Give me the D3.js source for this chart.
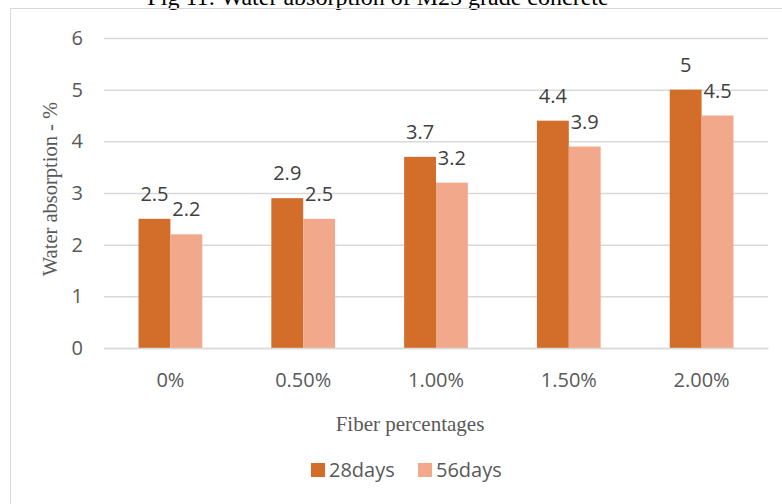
<!DOCTYPE html>
<html><head><meta charset="utf-8">
<script src="https://cdn.jsdelivr.net/npm/d3@7"></script>
<style>html,body{margin:0;padding:0;background:#fff;}svg{display:block;}</style>
</head><body>
<svg id="c" width="782" height="504"></svg>
<script>
const categories = ["0%", "0.50%", "1.00%", "1.50%", "2.00%"];
const seriesNames = ["28days", "56days"];
const days28 = [2.5, 2.9, 3.7, 4.4, 5];
const days56 = [2.2, 2.5, 3.2, 3.9, 4.5];
const yTicks = [0, 1, 2, 3, 4, 5, 6];
const colors = ["#D26D2A", "#F2A98B"];

const svg = d3.select("#c");
const plotL = 104, plotR = 768, plotT = 38, plotB = 348;
const sans = "Open Sans, Calibri, sans-serif";
const serif = "Liberation Serif, Times New Roman, serif";

// title (cut at top, as in the reference)
svg.append("text").attr("x", 378).attr("y", 4.5).attr("text-anchor", "middle")
  .attr("font-family", serif).attr("font-size", 24)
  .attr("fill", "#000").text("Fig 11: Water absorption of M25 grade concrete");

// chart border
svg.append("rect").attr("x", 10.5).attr("y", 8.5).attr("width", 800).attr("height", 520)
  .attr("fill", "none").attr("stroke", "#D9D9D9").attr("stroke-width", 1);

const x = d3.scaleBand().domain(categories).range([plotL, plotR]).paddingInner(0.52).paddingOuter(0.26);
const xs = d3.scaleBand().domain(seriesNames).range([0, x.bandwidth()]);
const y = d3.scaleLinear().domain([0, 6]).range([plotB, plotT]);

// gridlines
const yAxis = d3.axisLeft(y).tickValues(yTicks).tickSize(-(plotR - plotL)).tickFormat(d3.format("d"));
const gy = svg.append("g").attr("transform", `translate(${plotL},0)`).call(yAxis);
gy.select(".domain").remove();
gy.selectAll(".tick line").attr("stroke", "#D9D9D9").attr("stroke-width", 1.5);
gy.selectAll(".tick text").attr("x", -21).attr("fill", "#595959")
  .attr("font-family", sans).attr("font-size", 20);

// bars
const data = categories.map((c, i) => ({cat: c, vals: [days28[i], days56[i]]}));
const groups = svg.append("g").selectAll("g").data(data).join("g")
  .attr("transform", d => `translate(${x(d.cat)},0)`);
groups.selectAll("rect").data(d => d.vals.map((v, j) => ({s: seriesNames[j], v, j}))).join("rect")
  .attr("x", d => xs(d.s)).attr("width", xs.bandwidth())
  .attr("y", d => y(d.v)).attr("height", d => y(0) - y(d.v))
  .attr("fill", d => colors[d.j]);
groups.selectAll("text").data(d => d.vals.map((v, j) => ({s: seriesNames[j], v, j}))).join("text")
  .attr("x", d => xs(d.s) + xs.bandwidth() / 2).attr("y", d => y(d.v) - 18)
  .attr("text-anchor", "middle").attr("fill", "#404040")
  .attr("font-family", sans).attr("font-size", 20)
  .text(d => d3.format("~g")(d.v));

// x axis
const xAxis = d3.axisBottom(x).tickSize(0).tickPadding(25);
const gx = svg.append("g").attr("transform", `translate(0,${plotB})`).call(xAxis);
gx.select(".domain").attr("stroke", "#D9D9D9").attr("stroke-width", 1.5);
gx.selectAll(".tick text").attr("fill", "#595959")
  .attr("font-family", sans).attr("font-size", 20);

// axis titles
svg.append("text").attr("x", 410).attr("y", 431).attr("text-anchor", "middle")
  .attr("font-family", serif).attr("font-size", 21)
  .attr("fill", "#595959").text("Fiber percentages");
svg.append("text").attr("transform", "translate(57,189) rotate(-90)").attr("text-anchor", "middle")
  .attr("font-family", serif).attr("font-size", 20.5)
  .attr("fill", "#595959").text("Water absorption - %");

// legend
const legX = [311, 418];
const leg = svg.append("g").selectAll("g").data(seriesNames).join("g")
  .attr("transform", (d, i) => `translate(${legX[i]},463)`);
leg.append("rect").attr("width", 14).attr("height", 14).attr("fill", (d, i) => colors[i]);
leg.append("text").attr("x", 18).attr("y", 14).attr("fill", "#595959")
  .attr("font-family", sans).attr("font-size", 20).text(d => d);
</script>
</body></html>
